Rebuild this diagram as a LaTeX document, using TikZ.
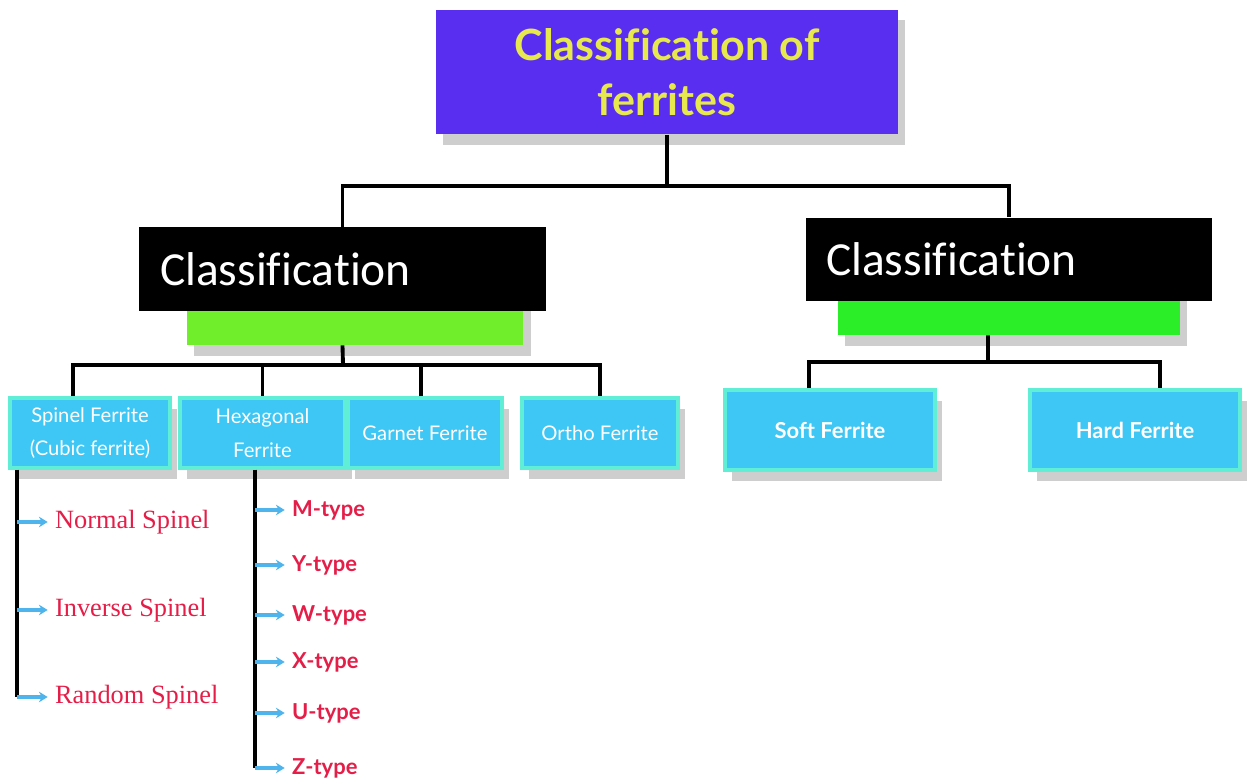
\documentclass[tikz,border=0pt]{standalone}
\usepackage{fontspec}
\setmainfont{Liberation Serif}
\setsansfont[Ligatures=NoCommon]{Lato}
\newfontfamily\calibri[Ligatures=NoCommon]{Carlito}
\usetikzlibrary{shadows,arrows.meta}

\definecolor{titlepurple}{RGB}{90,46,240}
\definecolor{titleyellow}{RGB}{230,232,78}
\definecolor{boxcyan}{RGB}{62,198,244}
\definecolor{boxedge}{RGB}{96,238,214}
\definecolor{limeL}{RGB}{112,238,44}
\definecolor{limeR}{RGB}{44,238,40}
\definecolor{leafred}{RGB}{228,30,72}
\definecolor{arrowblue}{RGB}{80,180,236}

\begin{document}
\begin{tikzpicture}[x=0.02cm, y=-0.02cm,
    shadowed/.style={drop shadow={shadow xshift=4pt, shadow yshift=-6pt, fill=gray!70, opacity=0.55}},
    titlebox/.style={shadowed, fill=titlepurple, text=titleyellow, align=center,
        font=\sffamily\bfseries\fontsize{24.5}{31}\selectfont, inner sep=0pt},
    greenbox/.style={shadowed, inner sep=0pt, minimum height=1.6cm},
    coverbox/.style={fill=black, text=white, align=left, inner ysep=0pt,
        minimum height=1.68cm, font=\calibri\fontsize{27}{30}\selectfont},
    typebox/.style={shadowed, fill=boxcyan, draw=boxedge, line width=2pt, text=white,
        align=center, inner sep=0pt, font=\sffamily\fontsize{11.5}{19}\selectfont},
    conn/.style={line width=2.2pt, black},
    leafarrow/.style={-{Stealth[length=5pt,width=6pt]}, line width=2pt, arrowblue, shorten >=3pt},
    spleaf/.style={anchor=west, inner sep=1pt, text=leafred, font=\fontsize{15}{18}\selectfont},
    hxleaf/.style={anchor=west, inner sep=1pt, text=leafred, font=\sffamily\bfseries\fontsize{12.5}{15}\selectfont}]

\useasboundingbox (0,0) rectangle (1258,783);

% top
\node[titlebox, minimum width=9.24cm, minimum height=2.5cm] (top) at (667,72) {Classification of\\ferrites};

% second level (covered)
\node[greenbox, fill=limeL, minimum width=6.74cm] (crys) at (355,305) {};
\node[greenbox, fill=limeR, minimum width=6.84cm] (magn) at (1009,295) {};
\node[coverbox, text width=7.3cm, inner xsep=0.42cm] (crysbar) at (342.5,269) {Classification};
\node[coverbox, text width=7.32cm, inner xsep=0.4cm] (magnbar) at (1009,259.5) {Classification};

\coordinate (jtop) at (667,186);
\draw[conn] (top.south) -- (jtop);
\draw[conn] (crysbar.north) |- (jtop) -| (magnbar.north);

% crystal structure branch
\node[typebox, minimum width=3.2cm, minimum height=1.4cm] (spin) at (90,433) {Spinel Ferrite\\(Cubic ferrite)};
\node[typebox, minimum width=3.3cm, minimum height=1.4cm] (hexa) at (262.5,433) {Hexagonal\\Ferrite};
\node[typebox, minimum width=3.08cm, minimum height=1.4cm] (garn) at (425,433) {Garnet Ferrite};
\node[typebox, minimum width=3.12cm, minimum height=1.4cm] (orth) at (600,433) {Ortho Ferrite};

\coordinate (jcrys) at (343,365);
\draw[conn] (crys.south -| crysbar.south) -- (jcrys);
\draw[conn] ([xshift=-0.34cm]spin.north) |- (jcrys) -| (orth.north);
\draw[conn] (hexa.north) -- (hexa.north |- jcrys);
\draw[conn] ([xshift=-0.08cm]garn.north) -- ([xshift=-0.08cm]garn.north |- jcrys);

% magnetic field branch
\node[typebox, minimum width=4.2cm, minimum height=1.6cm, font=\sffamily\bfseries\fontsize{12.5}{15}\selectfont] (soft) at (830,430) {Soft Ferrite};
\node[typebox, minimum width=4.2cm, minimum height=1.6cm, font=\sffamily\bfseries\fontsize{12.5}{15}\selectfont] (hard) at (1135,430) {Hard Ferrite};

\coordinate (jmagn) at (988,362);
\draw[conn] ([xshift=-0.42cm]magn.south) -- (jmagn);
\draw[conn] ([xshift=-0.42cm]soft.north) |- (jmagn) -| ([xshift=0.5cm]hard.north);

% spinel leaves
\coordinate (sline) at (17,697);
\draw[conn] (spin.south -| sline) -- (sline);
\foreach \n/\y/\t in {ns/522/Normal Spinel, is/610/Inverse Spinel, rs/697/Random Spinel}{
    \node[spleaf] (\n) at (53,\y) {\t};
    \draw[leafarrow] (\n.west -| sline) -- (\n.west);
}

% hexagonal leaves
\coordinate (hline) at (255,768);
\draw[conn] (hexa.south -| hline) -- (hline);
\foreach \n/\y/\t in {mt/510/M-type, yt/565/Y-type, wt/615/W-type, xt/662/X-type, ut/713/U-type, zt/768/Z-type}{
    \node[hxleaf] (\n) at (290,\y) {\t};
    \draw[leafarrow] (\n.west -| hline) -- (\n.west);
}

\end{tikzpicture}
\end{document}
